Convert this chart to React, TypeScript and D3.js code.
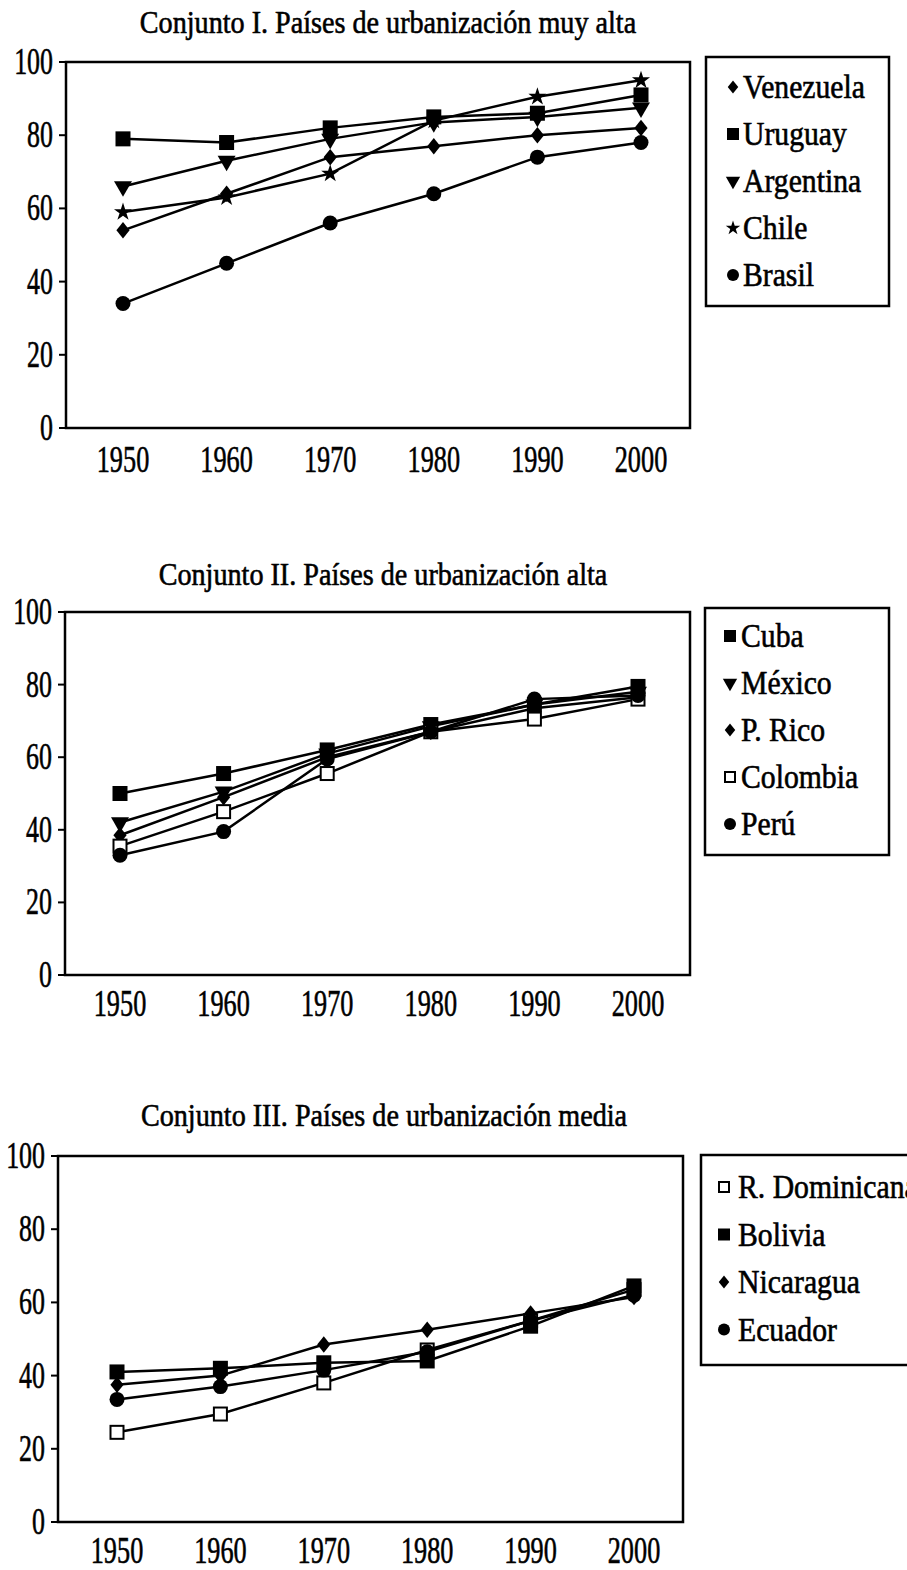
import React from "react";
import * as d3 from "d3";

const years = [1950, 1960, 1970, 1980, 1990, 2000];
const yTicks = [0, 20, 40, 60, 80, 100];

// Conjunto I
const c1Names = ["Venezuela", "Uruguay", "Argentina", "Chile", "Brasil"];
const venezuela = [54, 64, 74, 77, 80, 82];
const uruguay = [79, 78, 82, 85, 86, 91];
const argentina = [66, 73, 79, 83.5, 85, 87.5];
const chile = [59, 63, 69.5, 84, 90.5, 95];
const brasil = [34, 45, 56, 64, 74, 78];

// Conjunto II
const c2Names = ["Cuba", "México", "P. Rico", "Colombia", "Perú"];
const cuba = [50, 55.5, 62, 69, 74.5, 79.5];
const mexico = [42, 50.5, 61, 68.5, 74.5, 78];
const pRico = [38.5, 49, 60, 67, 73.5, 76.5];
const colombia = [35.5, 45, 55.5, 67, 70.5, 76];
const peru = [33, 39.5, 59.5, 67, 76, 77];

// Conjunto III
const c3Names = ["R. Dominicana", "Bolivia", "Nicaragua", "Ecuador"];
const rDominicana = [24.5, 29.5, 38, 47, 55, 63.5];
const bolivia = [41, 42, 43.5, 44, 53.5, 64.5];
const nicaragua = [37.5, 40, 48.5, 52.5, 57, 61.5];
const ecuador = [33.5, 37, 41.5, 46.5, 55, 62];

const titles = [
  "Conjunto I. Países de urbanización muy alta",
  "Conjunto II. Países de urbanización alta",
  "Conjunto III. Países de urbanización media",
];

type Shape = "diamond" | "square" | "triDown" | "star" | "circle" | "openSquare";

const charts = [
  {
    title: titles[0],
    series: [
      { name: c1Names[0], values: venezuela, shape: "diamond" as Shape },
      { name: c1Names[1], values: uruguay, shape: "square" as Shape },
      { name: c1Names[2], values: argentina, shape: "triDown" as Shape },
      { name: c1Names[3], values: chile, shape: "star" as Shape },
      { name: c1Names[4], values: brasil, shape: "circle" as Shape },
    ],
    layout: {
      left: 66, right: 690, top: 62, bottom: 428, px0: 123, px1: 641,
      titleX: 388, titleY: 33, xLabY: 472,
      legend: { x: 706, y: 57, w: 183, h: 249, y0: 87, dy: 47, mx: 733, tx: 743 },
    },
  },
  {
    title: titles[1],
    series: [
      { name: c2Names[0], values: cuba, shape: "square" as Shape },
      { name: c2Names[1], values: mexico, shape: "triDown" as Shape },
      { name: c2Names[2], values: pRico, shape: "diamond" as Shape },
      { name: c2Names[3], values: colombia, shape: "openSquare" as Shape },
      { name: c2Names[4], values: peru, shape: "circle" as Shape },
    ],
    layout: {
      left: 65, right: 690, top: 612, bottom: 975, px0: 120, px1: 638,
      titleX: 383, titleY: 585, xLabY: 1016,
      legend: { x: 705, y: 608, w: 184, h: 247, y0: 636, dy: 47, mx: 730, tx: 741 },
    },
  },
  {
    title: titles[2],
    series: [
      { name: c3Names[0], values: rDominicana, shape: "openSquare" as Shape },
      { name: c3Names[1], values: bolivia, shape: "square" as Shape },
      { name: c3Names[2], values: nicaragua, shape: "diamond" as Shape },
      { name: c3Names[3], values: ecuador, shape: "circle" as Shape },
    ],
    layout: {
      left: 58, right: 683, top: 1156, bottom: 1522, px0: 117, px1: 634,
      titleX: 384, titleY: 1126, xLabY: 1563,
      legend: { x: 701, y: 1155, w: 230, h: 210, y0: 1187, dy: 47.5, mx: 724, tx: 738 },
    },
  },
];

const FONT = "'Liberation Serif', 'Times New Roman', Times, serif";

function SText(props: { x: number; y: number; size: number; sx: number; anchor?: string; children: React.ReactNode }) {
  const { x, y, size, sx, anchor = "start", children } = props;
  return (
    <text
      transform={`translate(${x},${y}) scale(${sx},1)`}
      textAnchor={anchor}
      fontSize={size}
      fontFamily={FONT}
      fill="#000"
      stroke="#000"
      strokeWidth={0.6}
    >
      {children}
    </text>
  );
}

function Marker({ shape, x, y, s }: { shape: Shape; x: number; y: number; s: number }) {
  const t = `translate(${x},${y})`;
  if (shape === "square") {
    return <rect x={x - s / 2} y={y - s / 2} width={s} height={s} fill="#000" />;
  }
  if (shape === "openSquare") {
    return <rect x={x - s / 2 + 1} y={y - s / 2 + 1} width={s - 2} height={s - 2} fill="#fff" stroke="#000" strokeWidth={2} />;
  }
  if (shape === "circle") {
    return <circle cx={x} cy={y} r={s / 2} fill="#000" />;
  }
  if (shape === "diamond") {
    const h = s * 0.55;
    return <path d={`M${x},${y - h}L${x + h * 0.8},${y}L${x},${y + h}L${x - h * 0.8},${y}Z`} fill="#000" />;
  }
  if (shape === "triDown") {
    const p = d3.symbol().type(d3.symbolTriangle).size(s * s * 0.62)();
    return <path d={p || ""} transform={`${t} rotate(180)`} fill="#000" />;
  }
  // star
  const p = d3.symbol().type(d3.symbolStar).size(s * s * 0.45)();
  return <path d={p || ""} transform={t} fill="#000" />;
}

function Chart({ chart }: { chart: (typeof charts)[number] }) {
  const L = chart.layout;
  const x = d3.scalePoint<number>().domain(years).range([L.px0, L.px1]);
  const y = d3.scaleLinear().domain([0, 100]).range([L.bottom, L.top]);
  const line = d3
    .line<number>()
    .x((_, i) => x(years[i]) as number)
    .y((d) => y(d));
  const lg = L.legend;
  return (
    <g>
      <SText x={L.titleX} y={L.titleY} size={32} sx={0.88} anchor="middle">
        {chart.title}
      </SText>
      {/* plot frame */}
      <rect
        x={L.left}
        y={L.top}
        width={L.right - L.left}
        height={L.bottom - L.top}
        fill="none"
        stroke="#000"
        strokeWidth={2.5}
      />
      {yTicks.map((t) => (
        <g key={t}>
          <line x1={L.left - 7} x2={L.left} y1={y(t)} y2={y(t)} stroke="#000" strokeWidth={2} />
          <SText x={L.left - 13} y={y(t) + 12} size={37} sx={0.7} anchor="end">
            {t}
          </SText>
        </g>
      ))}
      {years.map((yr) => (
        <SText key={yr} x={x(yr) as number} y={L.xLabY} size={37} sx={0.71} anchor="middle">
          {yr}
        </SText>
      ))}
      {chart.series.map((s) => (
        <g key={s.name}>
          <path d={line(s.values) || ""} fill="none" stroke="#000" strokeWidth={2.5} />
          {s.values.map((v, i) => (
            <Marker key={i} shape={s.shape} x={x(years[i]) as number} y={y(v)} s={15} />
          ))}
        </g>
      ))}
      {/* legend */}
      <rect x={lg.x} y={lg.y} width={lg.w} height={lg.h} fill="none" stroke="#000" strokeWidth={2.5} />
      {chart.series.map((s, i) => (
        <g key={s.name}>
          <Marker shape={s.shape} x={lg.mx} y={lg.y0 + i * lg.dy} s={12} />
          <SText x={lg.tx} y={lg.y0 + i * lg.dy + 11} size={33} sx={0.9}>
            {s.name}
          </SText>
        </g>
      ))}
    </g>
  );
}

export default function App() {
  return (
    <svg
      width={907}
      height={1570}
      style={{ position: "absolute", left: 0, top: 0, display: "block", background: "#fff" }}
    >
      <rect x={0} y={0} width={907} height={1570} fill="#fff" />
      {charts.map((c, i) => (
        <Chart key={i} chart={c} />
      ))}
    </svg>
  );
}
